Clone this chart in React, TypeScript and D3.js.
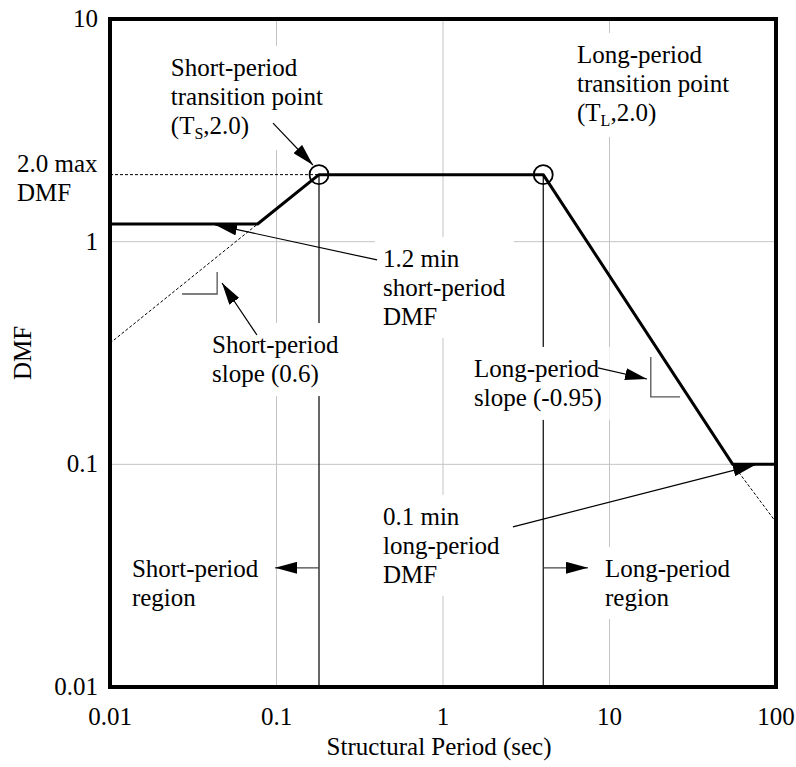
import React, { useEffect, useRef } from 'react';
import * as d3 from 'd3';

const W = 796;
const H = 767;

// axes
const periodTicks = [0.01, 0.1, 1, 10, 100];
const periodTickLabels = ['0.01', '0.1', '1', '10', '100'];
const dmfTicks = [0.01, 0.1, 1, 10];
const dmfTickLabels = ['0.01', '0.1', '1', '10'];

// DMF curve (solid)
const curvePeriod = [0.01, 0.077, 0.18, 4.0, 55, 100];
const curveDMF = [1.2, 1.2, 2.0, 2.0, 0.1, 0.1];

// transition points
const transitionPeriod = [0.18, 4.0];
const transitionDMF = [2.0, 2.0];

// dashed guides
const maxGuidePeriod = [0.01, 0.18];
const maxGuideDMF = [2.0, 2.0];
const shortExtPeriod = [0.01, 0.077];
const shortExtDMF = [0.35, 1.2];
const longExtPeriod = [55, 100];
const longExtDMF = [0.1, 0.055];

// annotation labels (anchor in data units: period, DMF of first baseline)
const labelLines = [
  ['Short-period', 'transition point', '(T_S,2.0)'],
  ['Long-period', 'transition point', '(T_L,2.0)'],
  ['1.2 min', 'short-period', 'DMF'],
  ['Short-period', 'slope (0.6)'],
  ['Long-period', 'slope (-0.95)'],
  ['0.1 min', 'long-period', 'DMF'],
  ['Short-period', 'region'],
  ['Long-period', 'region'],
];
const labelPeriod = [0.0232, 6.38, 0.436, 0.041, 1.535, 0.436, 0.01355, 9.4];
const labelDMF = [5.55, 6.35, 0.77, 0.316, 0.247, 0.0535, 0.0312, 0.0312];

// arrows: from -> to (data units)
const arrowFromPeriod = [0.0953, 0.402, 0.0763, 8.53, 2.63, 0.18, 4.0];
const arrowFromDMF = [3.41, 0.828, 0.381, 0.271, 0.0524, 0.0343, 0.0343];
const arrowToPeriod = [0.1655, 0.0428, 0.0471, 16.8, 74.8, 0.098, 7.43];
const arrowToDMF = [2.21, 1.19, 0.652, 0.2417, 0.0994, 0.0343, 0.0343];
const arrowGray = [false, false, false, false, false, true, true];

// slope indicator "L" marks
const shortSlopeMarkPeriod = [0.0271, 0.044, 0.044];
const shortSlopeMarkDMF = [0.582, 0.582, 0.731];
const longSlopeMarkPeriod = [17.7, 17.7, 26.5];
const longSlopeMarkDMF = [0.3036, 0.2008, 0.2008];

const FONT = '"Liberation Serif", "Times New Roman", serif';
const FS = 25;
const LH = 29;

export default function App() {
  const ref = useRef<SVGSVGElement | null>(null);

  useEffect(() => {
    const svg = d3.select(ref.current);
    svg.selectAll('*').remove();

    const left = 110, right = 776, top = 19, bottom = 687;
    const x = d3.scaleLog().domain([0.01, 100]).range([left, right]);
    const y = d3.scaleLog().domain([0.01, 10]).range([bottom, top]);

    const defs = svg.append('defs');
    defs.append('marker')
      .attr('id', 'ah')
      .attr('markerUnits', 'userSpaceOnUse')
      .attr('markerWidth', 22)
      .attr('markerHeight', 12)
      .attr('refX', 22)
      .attr('refY', 6)
      .attr('orient', 'auto')
      .append('path')
      .attr('d', 'M0,0 L22,6 L0,12 Z')
      .attr('fill', '#000');

    svg.append('rect').attr('width', W).attr('height', H).attr('fill', '#fff');

    // gridlines
    const grid = svg.append('g');
    periodTicks.slice(1, -1).forEach((t) => {
      grid.append('line')
        .attr('x1', x(t)).attr('x2', x(t))
        .attr('y1', top).attr('y2', bottom)
        .attr('stroke', '#c4c4c4').attr('stroke-width', 1);
    });
    dmfTicks.slice(1, -1).forEach((d) => {
      grid.append('line')
        .attr('x1', left).attr('x2', right)
        .attr('y1', y(d)).attr('y2', y(d))
        .attr('stroke', '#c4c4c4').attr('stroke-width', 1);
    });

    // vertical transition lines
    transitionPeriod.forEach((t, i) => {
      svg.append('line')
        .attr('x1', x(t)).attr('x2', x(t))
        .attr('y1', y(transitionDMF[i])).attr('y2', bottom)
        .attr('stroke', '#000').attr('stroke-width', 1.2);
    });

    // labels with white masks
    const maskLayer = svg.append('g');
    const textLayer = svg.append('g');
    labelLines.forEach((lines, i) => {
      const g = textLayer.append('g');
      const lx = x(labelPeriod[i]);
      const ly = y(labelDMF[i]);
      lines.forEach((line, j) => {
        const t = g.append('text')
          .attr('x', lx)
          .attr('y', ly + j * LH)
          .attr('font-family', FONT)
          .attr('font-size', FS)
          .attr('fill', '#000');
        const parts = line.split(/_(\w)/);
        parts.forEach((p, k) => {
          if (k % 2 === 1) {
            t.append('tspan').attr('font-size', 16).attr('dy', 5).text(p);
          } else if (p.length) {
            const ts = t.append('tspan').text(p);
            if (k > 0) ts.attr('dy', -5);
          }
        });
      });
      const bb = (g.node() as SVGGElement).getBBox();
      const pad = 8;
      maskLayer.append('rect')
        .attr('x', bb.x - pad).attr('y', bb.y - pad)
        .attr('width', bb.width + 2 * pad).attr('height', bb.height + 2 * pad)
        .attr('fill', '#fff');
    });

    const line = d3.line<[number, number]>().x((d) => x(d[0])).y((d) => y(d[1]));

    // dashed guides
    const dashed = (ps: number[], ds: number[]) =>
      svg.append('path')
        .attr('d', line(ps.map((p, i) => [p, ds[i]] as [number, number])))
        .attr('fill', 'none').attr('stroke', '#000')
        .attr('stroke-width', 1).attr('stroke-dasharray', '3,2');
    dashed(maxGuidePeriod, maxGuideDMF);
    dashed(shortExtPeriod, shortExtDMF);
    dashed(longExtPeriod, longExtDMF);

    // main curve
    svg.append('path')
      .attr('d', line(curvePeriod.map((p, i) => [p, curveDMF[i]] as [number, number])))
      .attr('fill', 'none').attr('stroke', '#000').attr('stroke-width', 3)
      .attr('stroke-linejoin', 'round');

    // transition circles
    transitionPeriod.forEach((t, i) => {
      svg.append('circle')
        .attr('cx', x(t)).attr('cy', y(transitionDMF[i])).attr('r', 9.5)
        .attr('fill', 'none').attr('stroke', '#000').attr('stroke-width', 1.8);
    });

    // slope marks
    [[shortSlopeMarkPeriod, shortSlopeMarkDMF], [longSlopeMarkPeriod, longSlopeMarkDMF]].forEach(([ps, ds]) => {
      svg.append('path')
        .attr('d', line(ps.map((p, i) => [p, ds[i]] as [number, number])))
        .attr('fill', 'none').attr('stroke', '#555').attr('stroke-width', 1.3);
    });

    // arrows
    arrowFromPeriod.forEach((p, i) => {
      svg.append('line')
        .attr('x1', x(p)).attr('y1', y(arrowFromDMF[i]))
        .attr('x2', x(arrowToPeriod[i])).attr('y2', y(arrowToDMF[i]))
        .attr('stroke', arrowGray[i] ? '#444' : '#000')
        .attr('stroke-width', 1.2)
        .attr('marker-end', 'url(#ah)');
    });

    // frame
    svg.append('rect')
      .attr('x', left).attr('y', top)
      .attr('width', right - left).attr('height', bottom - top)
      .attr('fill', 'none').attr('stroke', '#000').attr('stroke-width', 4);

    // tick labels
    periodTicks.forEach((t, i) => {
      svg.append('text')
        .attr('x', x(t)).attr('y', bottom + 38)
        .attr('text-anchor', 'middle')
        .attr('font-family', FONT).attr('font-size', FS)
        .text(periodTickLabels[i]);
    });
    dmfTicks.forEach((d, i) => {
      svg.append('text')
        .attr('x', left - 12).attr('y', y(d) + 8)
        .attr('text-anchor', 'end')
        .attr('font-family', FONT).attr('font-size', FS)
        .text(dmfTickLabels[i]);
    });

    // "2.0 max DMF" side label
    ['2.0 max', 'DMF'].forEach((s, j) => {
      svg.append('text')
        .attr('x', 17).attr('y', y(2.0) - 3 + j * LH)
        .attr('font-family', FONT).attr('font-size', FS)
        .text(s);
    });

    // axis titles
    svg.append('text')
      .attr('x', (left + right) / 2 - 4).attr('y', 755)
      .attr('text-anchor', 'middle')
      .attr('font-family', FONT).attr('font-size', FS)
      .text('Structural Period (sec)');
    svg.append('text')
      .attr('transform', `translate(31, ${(top + bottom) / 2}) rotate(-90)`)
      .attr('text-anchor', 'middle')
      .attr('font-family', FONT).attr('font-size', FS)
      .text('DMF');
  }, []);

  return (
    <svg
      ref={ref}
      width={W}
      height={H}
      style={{ position: 'absolute', left: 0, top: 0 }}
    />
  );
}
